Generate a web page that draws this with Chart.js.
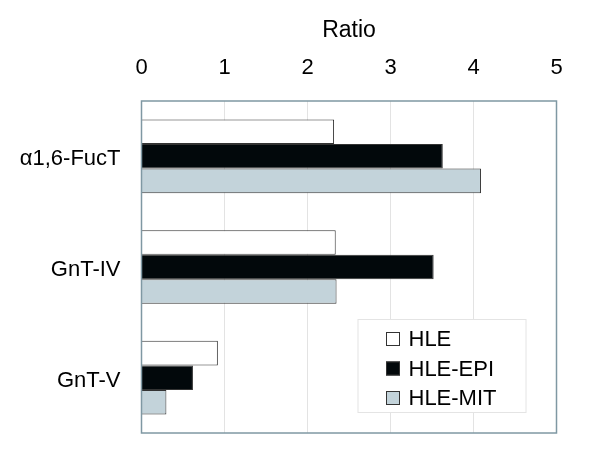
<!DOCTYPE html>
<html>
<head>
<meta charset="utf-8">
<script src="https://cdn.jsdelivr.net/npm/chart.js@4"></script>
<style>
  html, body { margin: 0; padding: 0; background: #fff; }
  #wrap { width: 600px; height: 452px; }
</style>
</head>
<body>
<div id="wrap"><canvas id="chart" width="600" height="452"></canvas></div>
<script>
// data
const categories = ['\u03b11,6-FucT', 'GnT-IV', 'GnT-V'];
const seriesNames = ['HLE', 'HLE-EPI', 'HLE-MIT'];
const hle = [2.32, 2.34, 0.92];
const hleEpi = [3.63, 3.52, 0.62];
const hleMit = [4.09, 2.35, 0.30];
const xTicks = [0, 1, 2, 3, 4, 5];

const FONT = "'Liberation Sans', Arial, sans-serif";
const fills = ['#ffffff', '#02080b', '#c3d3da'];

// frame round the plot area
const frame = {
    id: 'frame',
    afterDatasetsDraw(chart) {
        const a = chart.chartArea, c = chart.ctx;
        c.save();
        c.strokeStyle = '#7f98a3';
        c.lineWidth = 1.5;
        c.strokeRect(a.left, a.top, a.right - a.left, a.bottom - a.top);
        c.restore();
    }
};

// legend box in the lower right of the plot
const boxLegend = {
    id: 'boxLegend',
    afterDraw(chart) {
        const a = chart.chartArea, c = chart.ctx;
        const w = 168, h = 93;
        const x = a.right - 31 - w, y = a.bottom - 21 - h;
        c.save();
        c.fillStyle = '#fff';
        c.fillRect(x, y, w, h);
        c.strokeStyle = '#e4e4e4';
        c.lineWidth = 1;
        c.strokeRect(x + 0.5, y + 0.5, w, h);
        c.font = '22px ' + FONT;
        c.textBaseline = 'middle';
        chart.data.datasets.forEach((ds, i) => {
            const cy = y + 20 + i * 29.5;
            c.fillStyle = ds.backgroundColor;
            c.fillRect(x + 28.5, cy - 7, 14, 14);
            c.strokeStyle = '#333';
            c.strokeRect(x + 29, cy - 6.5, 13, 13);
            c.fillStyle = '#000';
            c.fillText(ds.label, x + 51, cy + 1);
        });
        c.restore();
    }
};

new Chart(document.getElementById('chart'), {
    type: 'bar',
    data: {
        labels: categories,
        datasets: [
            { label: seriesNames[0], data: hle, backgroundColor: fills[0] },
            { label: seriesNames[1], data: hleEpi, backgroundColor: fills[1] },
            { label: seriesNames[2], data: hleMit, backgroundColor: fills[2] }
        ]
    },
    options: {
        indexAxis: 'y',
        responsive: false,
        animation: false,
        layout: { padding: { top: 0, right: 43.5, bottom: 19, left: 0 } },
        datasets: {
            bar: {
                categoryPercentage: 0.665,
                barPercentage: 1,
                borderWidth: 1,
                borderColor: '#333',
                borderSkipped: 'start'
            }
        },
        plugins: {
            legend: { display: false },
            tooltip: { enabled: false }
        },
        scales: {
            x: {
                position: 'top',
                min: 0,
                max: 5,
                afterBuildTicks: s => { s.ticks = xTicks.map(v => ({ value: v })); },
                afterFit: s => { s.height = 101; },
                grid: { color: '#e3e3e3', drawTicks: false },
                border: { display: false },
                ticks: { color: '#000', font: { size: 22, family: FONT }, padding: 20 },
                title: {
                    display: true,
                    text: 'Ratio',
                    color: '#000',
                    font: { size: 23, family: FONT },
                    padding: { top: 17, bottom: 0 }
                }
            },
            y: {
                afterFit: s => { s.width = 141.5; s.paddingTop = 0; s.paddingBottom = 0; },
                grid: { display: false, drawTicks: false },
                border: { display: false },
                ticks: { color: '#000', font: { size: 22, family: FONT }, padding: 21, labelOffset: 3 }
            }
        }
    },
    plugins: [frame, boxLegend]
});
</script>
</body>
</html>
